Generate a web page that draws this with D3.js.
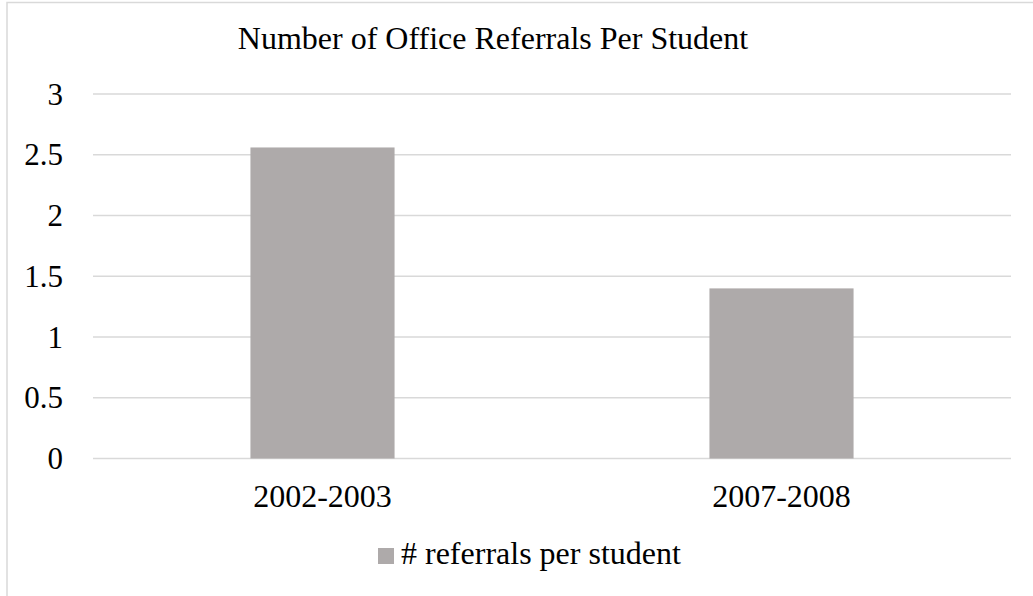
<!DOCTYPE html>
<html>
<head>
<meta charset="utf-8">
<script src="https://cdn.jsdelivr.net/npm/d3@7"></script>
<style>
  html, body { margin: 0; padding: 0; background: #fff; }
  svg { display: block; }
  text { font-family: "Liberation Serif", "Times New Roman", serif; fill: #000; }
</style>
</head>
<body>
<svg id="chart" width="1033" height="596"></svg>
<script>
// Chart data
const categories = ["2002-2003", "2007-2008"];
const referralsPerStudent = [2.56, 1.40];
const yTicks = [0, 0.5, 1, 1.5, 2, 2.5, 3];
const chartTitle = "Number of Office Referrals Per Student";
const seriesName = "# referrals per student";

const W = 1033, H = 596;
const plot = { left: 93, right: 1011, top: 94, bottom: 458.5 };
const barColor = "#AEAAAA";
const gridColor = "#D9D9D9";
const fontSize = 32;
const yFontSize = 31;

const svg = d3.select("#chart");

// Outer chart frame (runs off the right and bottom edges)
svg.append("rect")
  .attr("x", 7).attr("y", 2.5)
  .attr("width", W + 20).attr("height", H + 20)
  .attr("fill", "#fff")
  .attr("stroke", gridColor).attr("stroke-width", 1.5);

const x = d3.scaleBand()
  .domain(categories)
  .range([plot.left, plot.right])
  .paddingInner(0.686)
  .paddingOuter(0.343);

const y = d3.scaleLinear()
  .domain([0, 3])
  .range([plot.bottom, plot.top]);

// Horizontal gridlines
svg.append("g")
  .selectAll("line")
  .data(yTicks)
  .join("line")
  .attr("x1", plot.left).attr("x2", plot.right)
  .attr("y1", d => y(d)).attr("y2", d => y(d))
  .attr("stroke", gridColor).attr("stroke-width", 1.6);

// Y axis labels
const yAxis = d3.axisLeft(y).tickValues(yTicks).tickSize(0).tickPadding(0)
  .tickFormat(d => String(d));
const yg = svg.append("g").attr("transform", "translate(63,0)").call(yAxis);
yg.select(".domain").remove();
yg.selectAll("text")
  .attr("font-family", "Liberation Serif").attr("font-size", yFontSize)
  .attr("fill", "#000").attr("dy", "0.33em");

// Bars
svg.append("g")
  .selectAll("rect")
  .data(categories.map((c, i) => ({ c, v: referralsPerStudent[i] })))
  .join("rect")
  .attr("x", d => x(d.c))
  .attr("width", x.bandwidth())
  .attr("y", d => y(d.v))
  .attr("height", d => y(0) - y(d.v))
  .attr("fill", barColor);

// X axis labels
const xAxis = d3.axisBottom(x).tickSize(0).tickPadding(0);
const xg = svg.append("g").attr("transform", "translate(0,507)").call(xAxis);
xg.select(".domain").remove();
xg.selectAll("text")
  .attr("font-family", "Liberation Serif").attr("font-size", fontSize)
  .attr("fill", "#000").attr("dy", 0).attr("y", 0);

// Title
svg.append("text")
  .attr("x", 493).attr("y", 49)
  .attr("text-anchor", "middle")
  .attr("font-size", fontSize)
  .text(chartTitle);

// Legend
const legend = svg.append("g");
legend.append("rect")
  .attr("x", 378).attr("y", 548)
  .attr("width", 16).attr("height", 16)
  .attr("fill", barColor);
legend.append("text")
  .attr("x", 401).attr("y", 564)
  .attr("font-size", fontSize)
  .text(seriesName);
</script>
</body>
</html>
